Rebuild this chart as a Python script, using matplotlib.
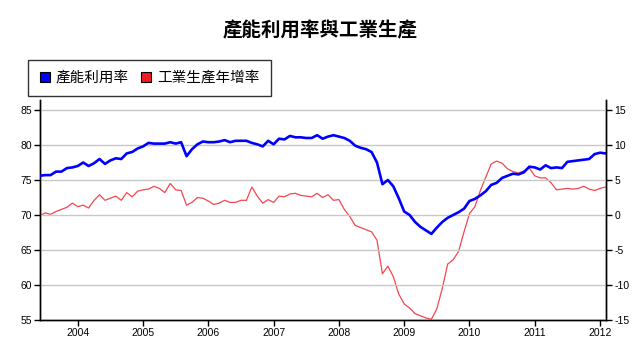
import matplotlib
matplotlib.use("Agg")
import matplotlib.pyplot as plt
from matplotlib.lines import Line2D
import numpy as np

# Monthly data, Jun 2003 .. Feb 2012
start_year = 2003
start_month = 6
capacity_util = [
    75.6, 75.7, 75.7, 76.2, 76.2, 76.7, 76.8, 77.0, 77.5, 77.0,
    77.4, 78.0, 77.3, 77.8, 78.1, 78.0, 78.8, 79.0, 79.5, 79.8,
    80.3, 80.2, 80.2, 80.2, 80.4, 80.2, 80.4, 78.4, 79.4, 80.1,
    80.5, 80.4, 80.4, 80.5, 80.7, 80.4, 80.6, 80.6, 80.6, 80.3,
    80.1, 79.8, 80.6, 80.1, 80.9, 80.8, 81.3, 81.1, 81.1, 81.0,
    81.0, 81.4, 80.9, 81.2, 81.4, 81.2, 81.0, 80.6, 79.9, 79.6,
    79.4, 79.0, 77.5, 74.4, 75.0, 74.1, 72.4, 70.5, 70.0, 69.0,
    68.3, 67.8, 67.3, 68.2, 69.0, 69.6, 70.0, 70.4, 70.9, 72.0,
    72.3, 72.8, 73.4, 74.3, 74.6, 75.3, 75.6, 75.9, 75.8, 76.1,
    76.9, 76.8, 76.5, 77.1, 76.7, 76.8, 76.7, 77.6, 77.7, 77.8,
    77.9, 78.0, 78.7, 78.9, 78.8,
]
ip_yoy = [
    -0.1, 0.3, 0.1, 0.5, 0.8, 1.1, 1.7, 1.2, 1.4, 1.0,
    2.1, 2.9, 2.1, 2.4, 2.7, 2.1, 3.2, 2.6, 3.4, 3.6,
    3.7, 4.1, 3.8, 3.2, 4.5, 3.6, 3.5, 1.4, 1.8, 2.5,
    2.4, 2.0, 1.5, 1.7, 2.1, 1.8, 1.8, 2.1, 2.1, 4.0,
    2.7, 1.7, 2.2, 1.8, 2.7, 2.6, 3.0, 3.1, 2.8, 2.7,
    2.6, 3.1, 2.5, 2.9, 2.1, 2.2, 0.8, -0.2, -1.5, -1.8,
    -2.1, -2.4, -3.6, -8.4, -7.3, -8.8, -11.3, -12.7, -13.3, -14.1,
    -14.4, -14.7, -14.9, -13.4, -10.5, -7.0, -6.4, -5.2, -2.4, 0.2,
    1.2, 3.5, 5.4, 7.3, 7.7, 7.4, 6.6, 6.2, 6.0, 6.3,
    6.7, 5.6, 5.3, 5.3, 4.6, 3.6, 3.7, 3.8, 3.7, 3.8,
    4.1, 3.7, 3.5, 3.8, 4.0,
]
year_ticks = [2004, 2005, 2006, 2007, 2008, 2009, 2010, 2011, 2012]
left_ticks = [55, 60, 65, 70, 75, 80, 85]
right_ticks = [-15, -10, -5, 0, 5, 10, 15]
title = "產能利用率與工業生產"
labels = ["產能利用率", "工業生產年增率"]

t = start_year + (start_month - 1) / 12 + np.arange(len(capacity_util)) / 12

cjk = ["Noto Sans CJK TC", "DejaVu Sans"]
num_font = "Liberation Sans"

fig = plt.figure(figsize=(6.4, 3.57), dpi=100)
W, H = 640, 357
ax = fig.add_axes([40 / W, 37 / H, 566 / W, 220 / H])
ax2 = ax.twinx()

ax.set_xlim(start_year + (start_month - 1) / 12 + 0.005, 2012 + 1 / 12 + 0.008)
ax.set_ylim(55, 86.43)
ax2.set_ylim(-15, 16.43)

ax.set_yticks(left_ticks)
ax2.set_yticks(right_ticks)
ax.set_xticks(year_ticks)
ax.set_xticklabels([str(y) for y in year_ticks], fontfamily=num_font, fontsize=7.5)
ax.set_yticklabels([str(v) for v in left_ticks], fontfamily=num_font, fontsize=7.5)
ax2.set_yticklabels([str(v) for v in right_ticks], fontfamily=num_font, fontsize=7.5)

ax.grid(axis="y", color="#c8c8c8", linewidth=1.0)
ax.set_axisbelow(True)

for a in (ax, ax2):
    a.spines["top"].set_visible(False)
    for s in ("left", "right", "bottom"):
        a.spines[s].set_linewidth(1.0)
        a.spines[s].set_color("black")
    a.tick_params(direction="out", length=4, width=1, pad=2, colors="black")

ax2.plot(t, ip_yoy, color="#f54550", linewidth=0.9, zorder=3)
ax.plot(t, capacity_util, color="#0000ff", linewidth=1.9, zorder=4)
ax.set_zorder(ax2.get_zorder() + 1)
ax.patch.set_visible(False)

fig.text(0.5, 1 - 31 / H, title, ha="center", va="center", fontsize=14,
         fontweight="bold", family=cjk)

handles = [
    Line2D([], [], linestyle="none", marker="s", markersize=7.5,
           markerfacecolor="#0000ff", markeredgecolor="black", markeredgewidth=0.8),
    Line2D([], [], linestyle="none", marker="s", markersize=7.5,
           markerfacecolor="#ee1c24", markeredgecolor="black", markeredgewidth=0.8),
]
leg = fig.legend(handles, labels, loc="upper left",
                 bbox_to_anchor=(28 / W, 1 - 60 / H), ncol=2,
                 prop={"family": cjk, "size": 10.5}, frameon=True,
                 fancybox=False, edgecolor="black", borderpad=0.75,
                 handlelength=0.8, handletextpad=0.35, columnspacing=0.8,
                 borderaxespad=0)
leg.get_frame().set_linewidth(1.0)

fig.savefig("out.png", dpi=100)
